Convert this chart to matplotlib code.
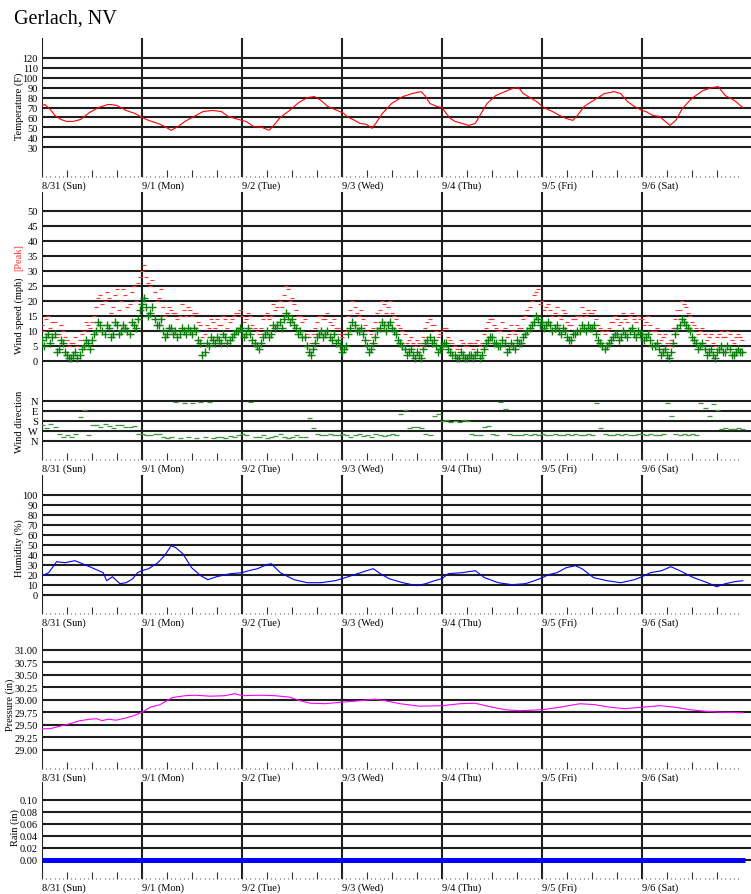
import numpy as np
import matplotlib
matplotlib.use("Agg")
import matplotlib.pyplot as plt

plt.rcParams['font.family'] = ['Liberation Serif', 'DejaVu Serif']

# ---------------- data ----------------
day_labels = ["8/31 (Sun)", "9/1 (Mon)", "9/2 (Tue)", "9/3 (Wed)",
              "9/4 (Thu)", "9/5 (Fri)", "9/6 (Sat)"]

# temperature (F): hours since 8/31 00:00, value
temp_hours = [0, 0.7, 2.2, 3.1, 4.5, 5.9, 7.5, 9.3, 11.4, 13.6, 15.8, 16.5, 18.0, 20.2, 22.3, 24.0,
              25.6, 27.8, 29.4, 31.0, 32.7, 34.3, 36.5, 38.7, 40.9, 43.0, 44.7, 46.3, 48.0,
              49.0, 50.7, 52.8, 54.5, 55.6, 57.2, 59.4, 61.6, 63.7, 65.4, 67.0, 68.6, 70.3, 72.0,
              72.4, 73.5, 74.6, 76.3, 77.9, 79.2, 80.1, 81.7, 83.9, 86.6, 88.8, 91.0, 92.1, 93.1, 94.8, 96.0,
              97.0, 98.0, 99.1, 100.8, 102.4, 104.0, 105.1, 106.8, 108.9, 111.1, 112.8, 114.4, 115.5, 117.1, 118.7, 120.1,
              120.9, 122.5, 124.2, 125.8, 127.4, 128.5, 130.1, 132.3, 135.0, 137.3, 138.9, 140.5, 142.2, 144.0,
              144.9, 146.6, 148.2, 149.3, 150.7, 152.1, 153.7, 155.9, 158.6, 160.7, 162.3, 164.0, 166.2, 168.2]
temp_vals = [72, 73, 67, 62, 58, 56, 56, 58, 65, 70, 73, 73, 72, 67, 64, 60,
             57, 54, 51, 47, 51, 56, 61, 66, 67, 66, 61, 59, 57,
             56, 51, 50, 47, 52, 60, 67, 75, 80, 81, 77, 71, 68, 65,
             64, 60, 58, 54, 53, 49, 54, 64, 74, 81, 84, 86, 81, 74, 71, 70,
             64, 59, 56, 54, 52, 54, 62, 74, 82, 86, 89, 90, 84, 80, 76, 71,
             69, 66, 62, 59, 57, 62, 71, 77, 84, 86, 84, 76, 71, 67,
             66, 62, 61, 57, 52, 57, 69, 79, 87, 90, 91, 82, 77, 70]

# wind speed (mph): readings on the hour and at half past, from 8/31 00:00
wind_speed = [7, 8, 6, 9, 4, 6, 2, 1, 3, 2, 5, 6, 7, 10, 12, 9, 11, 9, 12, 10, 11, 9, 12, 14,
              19, 18, 16, 14, 12, 10, 9, 11, 10, 9, 10, 11, 9, 10, 6, 3, 5, 7, 8, 6, 8, 7, 9, 10,
              10, 9, 9, 6, 4, 8, 10, 9, 11, 13, 14, 15, 14, 11, 10, 8, 3, 4, 8, 10, 9, 8, 9, 7,
              3, 5, 11, 12, 10, 9, 5, 4, 8, 11, 12, 12, 11, 9, 6, 4, 3, 2, 3, 1, 6, 8, 7, 3,
              5, 6, 3, 2, 1, 2, 1, 2, 2, 1, 4, 7, 8, 6, 5, 6, 4, 5, 7, 6, 9, 11, 13, 14,
              13, 12, 12, 11, 10, 11, 8, 7, 9, 10, 11, 12, 11, 9, 6, 4, 6, 8, 9, 8, 9, 10, 9, 10,
              9, 8, 7, 5, 4, 3, 2, 3, 9, 12, 13, 11, 8, 6, 5, 4, 3, 2, 3, 5, 3, 4, 2, 4, 3]
wind_speed_half = [5, 9, 8, 3, 7, 3, 1, 2, 1, 4, 7, 4, 9, 13, 10, 12, 8, 13, 9, 12, 10, 13, 11, 17,
                   21, 15, 18, 12, 14, 8, 11, 9, 8, 11, 9, 10, 11, 7, 2, 6, 8, 6, 7, 9, 6, 8, 10, 11,
                   8, 11, 7, 5, 6, 9, 8, 12, 12, 11, 16, 13, 12, 9, 8, 5, 2, 6, 9, 8, 10, 7, 6, 5,
                   4, 9, 13, 10, 11, 7, 3, 6, 10, 13, 10, 13, 10, 7, 5, 2, 4, 1, 2, 4, 7, 6, 5, 4,
                   6, 4, 2, 1, 3, 1, 2, 1, 3, 2, 6, 8, 6, 5, 7, 3, 6, 4, 6, 8, 10, 12, 15, 12,
                   11, 13, 10, 12, 9, 10, 7, 9, 10, 12, 10, 11, 12, 7, 5, 5, 7, 9, 7, 10, 8, 11, 8, 9,
                   7, 9, 5, 6, 2, 4, 1, 6, 11, 14, 12, 10, 7, 4, 6, 2, 4, 1, 4, 3, 5, 2, 3, 3]
# peak gusts (mph)
wind_peak = [12, 14, 11, 13, 9, 10, 7, 6, 8, 7, 10, 12, 13, 18, 22, 20, 21, 18, 24, 20, 22, 19, 25, 26,
             30, 28, 25, 23, 21, 18, 16, 17, 16, 15, 17, 18, 15, 16, 12, 9, 11, 13, 14, 12, 14, 13, 15, 16,
             15, 14, 15, 11, 9, 14, 16, 15, 17, 20, 22, 24, 21, 17, 15, 14, 8, 9, 13, 15, 14, 13, 14, 11,
             8, 10, 17, 18, 15, 14, 10, 9, 13, 17, 19, 18, 16, 14, 11, 9, 7, 6, 7, 5, 11, 14, 12, 8,
             10, 11, 7, 5, 4, 6, 5, 6, 6, 5, 9, 13, 14, 11, 10, 11, 9, 10, 12, 11, 15, 18, 22, 24,
             20, 18, 17, 16, 15, 17, 13, 12, 14, 15, 16, 17, 16, 14, 11, 9, 11, 13, 14, 13, 14, 15, 14, 15,
             14, 13, 12, 10, 9, 8, 6, 7, 14, 17, 19, 16, 13, 11, 10, 9, 8, 6, 8, 10, 8, 9, 6, 9, 7]
wind_peak_half = [10, 15, 13, 8, 12, 8, 5, 6, 5, 9, 13, 11, 15, 21, 19, 23, 16, 22, 17, 24, 18, 23, 20, 28,
                  32, 26, 27, 20, 24, 15, 18, 16, 14, 19, 15, 17, 16, 13, 8, 12, 14, 11, 12, 15, 11, 14, 16, 17,
                  13, 16, 12, 10, 11, 15, 14, 19, 18, 18, 25, 20, 19, 15, 13, 9, 6, 11, 15, 14, 16, 12, 11, 9,
                  9, 15, 20, 16, 17, 12, 7, 11, 16, 20, 16, 20, 15, 12, 10, 6, 8, 5, 6, 8, 13, 12, 10, 9,
                  11, 8, 6, 4, 7, 5, 6, 4, 7, 6, 11, 14, 12, 10, 13, 8, 12, 9, 11, 14, 17, 20, 23, 19,
                  17, 19, 15, 18, 14, 16, 12, 14, 15, 18, 15, 16, 17, 12, 10, 10, 13, 15, 12, 16, 13, 16, 13, 14,
                  12, 15, 10, 11, 7, 9, 5, 11, 17, 20, 18, 15, 12, 9, 11, 7, 9, 5, 9, 8, 10, 7, 8, 8]

# wind direction (degrees, 0 = N), hourly
wind_dir = [220, 240, 210, 230, 300, 320, 310, 320, 300, 140, 80, 310, 220, 215, 230, 210, 225, 240, 220, 215, 230, 235, 225, 300,
            300, 310, 305, 295, 300, 320, 330, 320, 10, 330, 15, 325, 20, 330, 5, 320, 12, 330, 320, 325, 330, 315, 320, 310,
            300, 310, 8, 320, 325, 310, 330, 320, 315, 300, 325, 330, 320, 310, 325, 320, 150, 240, 300, 310, 305, 300, 310, 305,
            300, 310, 320, 305, 300, 315, 310, 320, 300, 305, 315, 310, 300, 305, 120, 80, 240, 235, 230, 240, 300, 310, 135, 120,
            180, 175, 185, 180, 190, 175, 180, 300, 305, 310, 235, 225, 300, 305, 10, 70, 300, 310, 305, 310, 300, 305, 300, 310,
            300, 305, 310, 300, 305, 310, 300, 305, 300, 310, 305, 300, 310, 15, 240, 300, 305, 310, 300, 305, 300, 310, 305, 300,
            300, 305, 300, 310, 305, 300, 15, 135, 300, 305, 300, 310, 300, 310, 20, 60, 135, 30, 80, 250, 245, 255, 250, 245, 250]

# humidity (%)
hum_hours = [0, 1.6, 3.5, 5.5, 7.9, 10.3, 12.5, 14.7, 15.5, 16.9, 18.7, 20.2, 21.8, 22.9, 24.0,
             25.6, 27.8, 29.4, 31.0, 32.1, 33.8, 35.9, 38.1, 39.8, 41.9, 45.2, 48.0,
             49.6, 51.7, 53.9, 55.0, 57.2, 60.5, 63.7, 67.0, 70.3, 72.0,
             73.5, 75.7, 77.9, 79.5, 81.2, 83.3, 86.6, 89.9, 92.1, 94.2, 96.0,
             97.5, 100.8, 104.0, 106.2, 109.5, 112.8, 116.0, 118.2, 120.1,
             121.5, 123.6, 125.8, 128.0, 129.6, 132.4, 135.6, 138.9, 142.2, 144.0,
             146.0, 148.7, 150.9, 153.1, 156.4, 159.7, 161.9, 164.0, 166.2, 168.2]
hum_vals = [19, 22, 33, 32, 34, 30, 26, 22, 14, 18, 11, 12, 16, 22, 24,
            26, 32, 39, 49, 47, 41, 27, 19, 15, 18, 21, 22,
            24, 26, 30, 31, 22, 15, 12, 12, 14, 16,
            18, 21, 24, 26, 21, 16, 12, 9, 11, 14, 16,
            21, 22, 24, 17, 12, 10, 11, 14, 17,
            20, 22, 27, 29, 26, 17, 14, 12, 15, 18,
            22, 24, 28, 24, 17, 12, 8, 11, 13, 14]

# pressure (in)
pres_hours = [0, 1.9, 4.3, 6.7, 9.1, 11.5, 13.2, 14.4, 15.8, 17.8, 19.9, 22.0, 24.0, 26.0, 28.3, 31.2,
              34.3, 36.7, 40.3, 43.9, 46.3, 48.0, 52.3, 55.9, 59.5, 61.9, 64.3, 67.9, 72.0, 76.3,
              79.9, 82.3, 85.9, 90.7, 96.0, 100.3, 103.9, 107.5, 111.1, 114.7, 120.0, 124.3, 129.1,
              132.7, 136.3, 139.9, 144.0, 148.3, 151.9, 155.5, 159.1, 162.7, 168.2]
pres_vals = [29.42, 29.42, 29.47, 29.52, 29.58, 29.61, 29.62, 29.58, 29.61, 29.59, 29.63, 29.68, 29.75,
             29.85, 29.90, 30.04, 30.08, 30.09, 30.07, 30.08, 30.12, 30.08, 30.09, 30.08, 30.05, 29.98,
             29.93, 29.92, 29.95, 29.98, 30.01, 29.98, 29.92, 29.87, 29.88, 29.92, 29.93, 29.86, 29.80,
             29.78, 29.80, 29.85, 29.92, 29.90, 29.85, 29.82, 29.85, 29.88, 29.85, 29.80, 29.77, 29.75, 29.74]

# rain (in)
rain_hours = [0, 168.6]
rain_vals = [0.00, 0.00]

# axis tick labels
temp_ticks = [30, 40, 50, 60, 70, 80, 90, 100, 110, 120]
wind_ticks = [0, 5, 10, 15, 20, 25, 30, 35, 40, 45, 50]
dir_ticks = [0, 90, 180, 270, 360]
dir_labels = ["N", "E", "S", "W", "N"]
hum_ticks = [0, 10, 20, 30, 40, 50, 60, 70, 80, 90, 100]
pres_ticks = [29.00, 29.25, 29.50, 29.75, 30.00, 30.25, 30.50, 30.75, 31.00]
rain_ticks = [0.00, 0.02, 0.04, 0.06, 0.08, 0.10]

# ---------------- layout ----------------
W, H = 751, 895
L = 42
XMAX = (W - L) / 100 * 24
GRID = '#1e1e1e'
LW = 1.5
FS = 7.5
days = np.arange(len(day_labels)) * 24
n_hours = len(day_labels) * 24

fig = plt.figure(figsize=(W / 100, H / 100), dpi=100)


def make_axes(top, bottom, ylim, yticks, ylabels, xlabels=True):
    ax = fig.add_axes([L / W, 1 - bottom / H, (W - L) / W, (bottom - top) / H])
    ax.set_xlim(0, XMAX)
    ax.set_ylim(*ylim)
    for s in ax.spines.values():
        s.set_visible(False)
    for v in yticks:
        ax.axhline(v, color=GRID, lw=LW, zorder=1)
    for d in days:
        ax.axvline(d, color=GRID, lw=LW, zorder=1)
    ax.set_yticks(yticks, ylabels)
    ax.tick_params(axis='y', length=0, pad=3, labelsize=FS)
    if xlabels:
        major = np.arange(0, n_hours, 6)
        ax.set_xticks(major, [day_labels[int(m // 24)] if m % 24 == 0 else '' for m in major])
        ax.set_xticks(np.arange(0, n_hours), minor=True)
        ax.tick_params(axis='x', which='major', direction='in', length=5, width=0.8,
                       color='#333333', pad=2.5, labelsize=FS)
        ax.tick_params(axis='x', which='minor', direction='in', length=1, width=0.8, color='#555555')
        for t in ax.get_xticklabels():
            t.set_horizontalalignment('left')
    else:
        ax.set_xticks([])
    return ax


def ylab(text, ycenter, x=19, color='black'):
    fig.text(x / W, 1 - ycenter / H, text, rotation=90, ha='center', va='center',
             fontsize=FS, color=color)


fig.text(14 / W, 1 - 19 / H, "Gerlach, NV", fontsize=14.5, ha='left', va='center')

# temperature
ax = make_axes(39, 178, (0, 140), temp_ticks, [str(v) for v in temp_ticks])
ax.plot(temp_hours, temp_vals, color='#ff0000', lw=0.8, zorder=3)
ylab("Temperature (F)", 106)

# wind speed
ax = make_axes(193, 392, (-10, 56.33), wind_ticks, [str(v) for v in wind_ticks], xlabels=False)
hrs = np.arange(len(wind_speed))
hrs_half = np.arange(len(wind_speed_half)) + 0.5
for x, y in ((hrs, wind_peak), (hrs_half, wind_peak_half)):
    ax.plot(x, y, ls='none', marker='_', ms=2.2, mew=0.8, color='#ff3030', zorder=2)
for x, y in ((hrs, wind_speed), (hrs_half, wind_speed_half)):
    ax.plot(x, y, ls='none', marker='+', ms=5.5, mew=1.0, color='#0a800a', zorder=3)
ylab("Wind speed (mph)", 316)
ylab("[Peak]", 258, color='#ff3030')

# wind direction
ax = make_axes(392, 461, (531, -90), dir_ticks, dir_labels)
ax.plot(np.arange(len(wind_dir)), wind_dir, ls='none', marker='_', ms=3.6, mew=0.9,
        color='#3a9a3a', zorder=3)
ylab("Wind direction", 422)

# humidity
ax = make_axes(476, 615, (-19.3, 119.7), hum_ticks, [str(v) for v in hum_ticks])
ax.plot(hum_hours, hum_vals, color='#0000ff', lw=0.8, zorder=3)
ylab("Humidity (%)", 548)

# pressure
ax = make_axes(629, 770, (28.614, 31.434), pres_ticks, ["%.2f" % v for v in pres_ticks])
ax.plot(pres_hours, pres_vals, color='#ff00ff', lw=0.8, zorder=3)
ylab("Pressure (in)", 705, x=10)

# rain
ax = make_axes(783, 880, (-0.0322, 0.1295), rain_ticks, ["%.2f" % v for v in rain_ticks])
ax.plot(rain_hours, rain_vals, color='#0000ff', lw=3.6, solid_capstyle='butt', zorder=3)
ylab("Rain (in)", 828, x=15)

fig.savefig("out.png", dpi=100)
